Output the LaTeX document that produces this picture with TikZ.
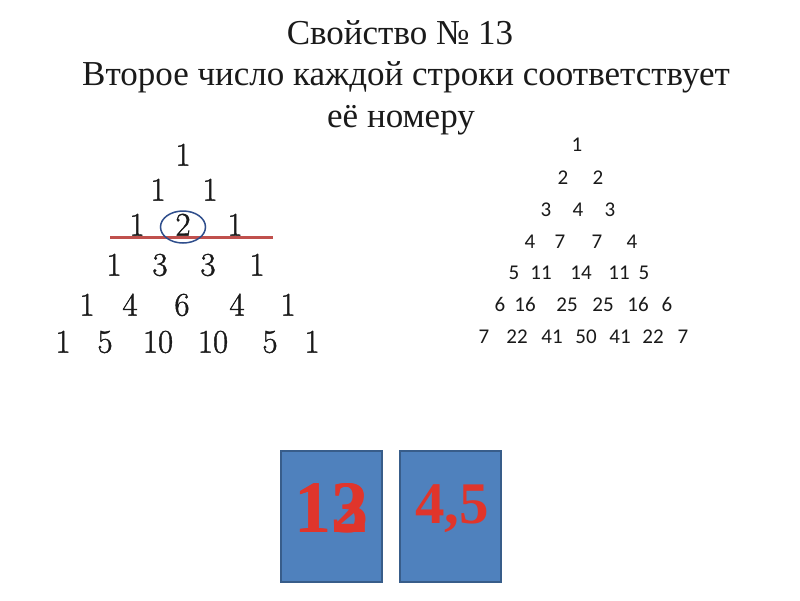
\documentclass[tikz,border=0pt]{standalone}
\usepackage{fontspec}
\setmainfont{Latin Modern Roman}
\newfontfamily\digfont[FakeBold=1.2]{Latin Modern Roman}
\newfontfamily\titlefont{Liberation Serif}
\newfontfamily\boxfont{Liberation Serif}
\newfontfamily\calfont{Carlito}
\definecolor{txt}{HTML}{1A1A1A}
\definecolor{boxfill}{HTML}{4F81BD}
\definecolor{boxline}{HTML}{385D8A}
\definecolor{numred}{HTML}{E0352B}
\definecolor{linered}{HTML}{C0504D}
\definecolor{ellblue}{HTML}{2F4E8C}
\tikzset{
  ttl/.style={anchor=base, inner sep=0pt, text=txt, font=\titlefont\fontsize{35}{35}\selectfont},
  lnum/.style={anchor=base, yshift=-10.6pt, inner sep=0pt, text=txt, font=\digfont\fontsize{33}{33}\selectfont},
  rnum/.style={anchor=base, yshift=-6.6pt, inner sep=0pt, text=txt, font=\calfont\fontsize{21}{21}\selectfont},
  card/.style={draw=boxline, line width=1.5pt, fill=boxfill},
  cardtext/.style={anchor=base, inner sep=0pt, text=numred, font=\boxfont\bfseries\fontsize{59}{59}\selectfont},
  bigcardtext/.style={cardtext, font=\boxfont\bfseries\fontsize{74}{74}\selectfont}
}
\begin{document}
\begin{tikzpicture}[x=1pt,y=-1pt]
\fill[white] (0,0) rectangle (800,600);
\useasboundingbox (0,0) rectangle (800,600);
% title
\node[ttl] (t1) at (400,44) {Свойство № 13};
\node[ttl] (t2) at (406,85) {Второе число каждой строки соответствует};
\node[ttl] (t3) at (401,127) {её номеру};
% left triangle
\node[lnum] (a11) at (183,155) {1};
\node[lnum] (a21) at (158,190) {1};
\node[lnum] (a22) at (210,190) {1};
\node[lnum] (a31) at (137,225) {1};
\node[lnum] (a32) at (183,225) {2};
\node[lnum] (a33) at (235,225) {1};
\node[lnum] (a41) at (114,265) {1};
\node[lnum] (a42) at (160,265) {3};
\node[lnum] (a43) at (208,265) {3};
\node[lnum] (a44) at (257,265) {1};
\node[lnum] (a51) at (87,305) {1};
\node[lnum] (a52) at (130,305) {4};
\node[lnum] (a53) at (182,305) {6};
\node[lnum] (a54) at (237,305) {4};
\node[lnum] (a55) at (288,305) {1};
\node[lnum] (a61) at (63,342) {1};
\node[lnum] (a62) at (105,342) {5};
\node[lnum] (a63) at (158,342) {10};
\node[lnum] (a64) at (213,342) {10};
\node[lnum] (a65) at (270,342) {5};
\node[lnum] (a66) at (312,342) {1};
\coordinate (rl1) at (110,237);
\coordinate (rl2) at (273,237);
\coordinate (ellc) at (183,227);
\draw[linered, line width=3pt] (rl1) -- (rl2);
\draw[ellblue, line width=1.5pt] (ellc) ellipse [x radius=22.5, y radius=16];
% right triangle
\node[rnum] (b11) at (577,145) {1};
\node[rnum] (b21) at (563,178) {2};
\node[rnum] (b22) at (598,178) {2};
\node[rnum] (b31) at (546,210) {3};
\node[rnum] (b32) at (578,210) {4};
\node[rnum] (b33) at (610,210) {3};
\node[rnum] (b41) at (530,242) {4};
\node[rnum] (b42) at (560,242) {7};
\node[rnum] (b43) at (597,242) {7};
\node[rnum] (b44) at (632,242) {4};
\node[rnum] (b51) at (514,273) {5};
\node[rnum] (b52) at (541,273) {11};
\node[rnum] (b53) at (581,273) {14};
\node[rnum] (b54) at (619,273) {11};
\node[rnum] (b55) at (644,273) {5};
\node[rnum] (b61) at (500,305) {6};
\node[rnum] (b62) at (525,305) {16};
\node[rnum] (b63) at (567,305) {25};
\node[rnum] (b64) at (603,305) {25};
\node[rnum] (b65) at (638,305) {16};
\node[rnum] (b66) at (667,305) {6};
\node[rnum] (b71) at (484,337) {7};
\node[rnum] (b72) at (517,337) {22};
\node[rnum] (b73) at (552,337) {41};
\node[rnum] (b74) at (586,337) {50};
\node[rnum] (b75) at (620,337) {41};
\node[rnum] (b76) at (653,337) {22};
\node[rnum] (b77) at (683,337) {7};
% cards
\draw[card] (281,451) rectangle (382,582);
\draw[card] (400,451) rectangle (501,582);
\node[bigcardtext] (c1a) at (331,532) {13};
\node[bigcardtext] (c1b) at (331,532) {12};
\node[cardtext] (c2) at (452,523) {4,5};
\end{tikzpicture}
\end{document}
